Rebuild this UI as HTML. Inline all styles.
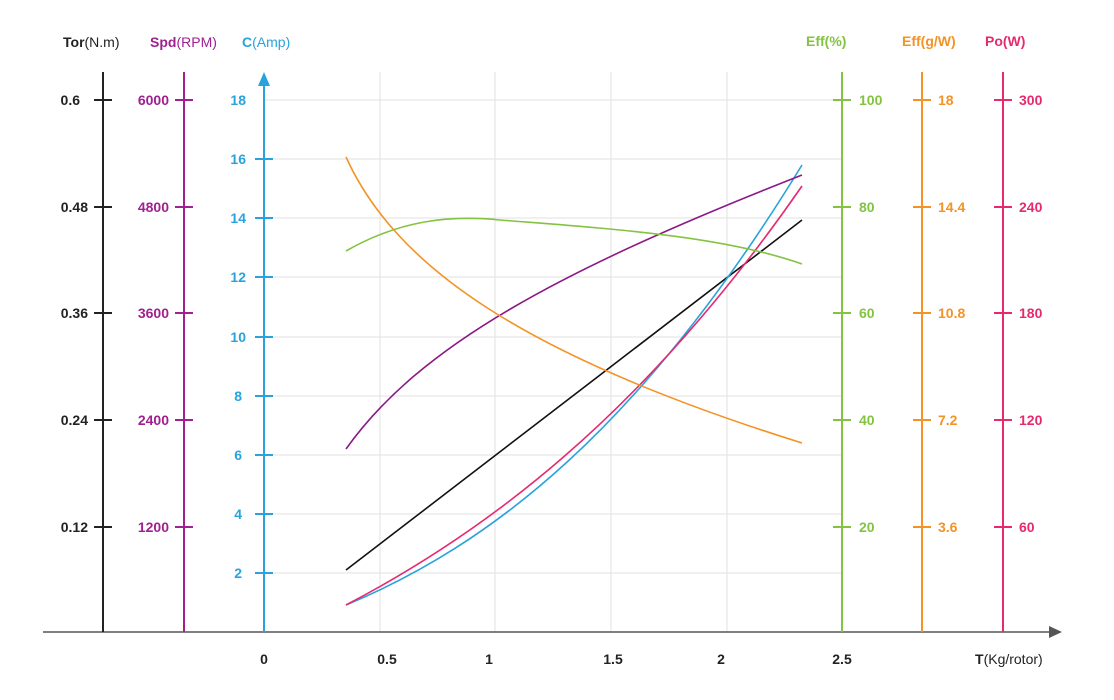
<!DOCTYPE html>
<html><head><meta charset="utf-8"><style>
body{margin:0;background:#fff;}
svg{display:block;font-family:"Liberation Sans",sans-serif;font-weight:bold;font-size:14px;}
.n{font-weight:normal}
</style></head><body>
<svg width="1114" height="700" viewBox="0 0 1114 700">
<g stroke="#e2e2e2" stroke-width="1">
<line x1="264" y1="100" x2="842" y2="100"/><line x1="264" y1="159" x2="842" y2="159"/>
<line x1="264" y1="218" x2="842" y2="218"/><line x1="264" y1="277" x2="842" y2="277"/>
<line x1="264" y1="337" x2="842" y2="337"/><line x1="264" y1="396" x2="842" y2="396"/>
<line x1="264" y1="455" x2="842" y2="455"/><line x1="264" y1="514" x2="842" y2="514"/>
<line x1="264" y1="573" x2="842" y2="573"/>
<line x1="380" y1="72" x2="380" y2="632"/><line x1="495" y1="72" x2="495" y2="632"/>
<line x1="611" y1="72" x2="611" y2="632"/><line x1="727" y1="72" x2="727" y2="632"/>
</g>
<line x1="43" y1="632" x2="1052" y2="632" stroke="#555" stroke-width="1.5"/>
<polygon points="1062,632 1049,626 1049,638" fill="#555"/>
<g fill="#222" text-anchor="middle"><text x="264" y="664">0</text><text x="387" y="664">0.5</text><text x="489" y="664">1</text><text x="613" y="664">1.5</text><text x="721" y="664">2</text><text x="842" y="664">2.5</text></g>
<text x="975" y="664" fill="#222">T<tspan class="n">(Kg/rotor)</tspan></text>
<g stroke="#222" stroke-width="2"><line x1="103" y1="72" x2="103" y2="632"/>
<path d="M94 100h18M94 207h18M94 313h18M94 420h18M94 527h18"/></g>
<g fill="#222" text-anchor="end"><text x="80" y="105">0.6</text><text x="88" y="212">0.48</text><text x="88" y="318">0.36</text><text x="88" y="425">0.24</text><text x="88" y="532">0.12</text></g>
<text x="63" y="47" fill="#222">Tor<tspan class="n">(N.m)</tspan></text>
<g stroke="#a0208f" stroke-width="2"><line x1="184" y1="72" x2="184" y2="632"/>
<path d="M175 100h18M175 207h18M175 313h18M175 420h18M175 527h18"/></g>
<g fill="#a0208f" text-anchor="end"><text x="169" y="105">6000</text><text x="169" y="212">4800</text><text x="169" y="318">3600</text><text x="169" y="425">2400</text><text x="169" y="532">1200</text></g>
<text x="150" y="47" fill="#a0208f">Spd<tspan class="n">(RPM)</tspan></text>
<g stroke="#2aa3dc" stroke-width="2"><line x1="264" y1="80" x2="264" y2="632"/>
<path d="M255 159h18M255 218h18M255 277h18M255 337h18M255 396h18M255 455h18M255 514h18M255 573h18"/></g>
<polygon points="264,72 258,86 270,86" fill="#2aa3dc"/>
<g fill="#2aa3dc" text-anchor="end"><text x="246" y="105">18</text><text x="246" y="164">16</text><text x="246" y="223">14</text><text x="246" y="282">12</text><text x="246" y="342">10</text><text x="242" y="401">8</text><text x="242" y="460">6</text><text x="242" y="519">4</text><text x="242" y="578">2</text></g>
<text x="242" y="47" fill="#2aa3dc">C<tspan class="n">(Amp)</tspan></text>
<g stroke="#84c341" stroke-width="2"><line x1="842" y1="72" x2="842" y2="632"/>
<path d="M833 100h18M833 207h18M833 313h18M833 420h18M833 527h18"/></g>
<g fill="#84c341"><text x="859" y="105">100</text><text x="859" y="212">80</text><text x="859" y="318">60</text><text x="859" y="425">40</text><text x="859" y="532">20</text></g>
<text x="806" y="46" fill="#84c341">Eff(%)</text>
<g stroke="#f39325" stroke-width="2"><line x1="922" y1="72" x2="922" y2="632"/>
<path d="M913 100h18M913 207h18M913 313h18M913 420h18M913 527h18"/></g>
<g fill="#f39325"><text x="938" y="105">18</text><text x="938" y="212">14.4</text><text x="938" y="318">10.8</text><text x="938" y="425">7.2</text><text x="938" y="532">3.6</text></g>
<text x="902" y="46" fill="#f39325">Eff(g/W)</text>
<g stroke="#e52a6f" stroke-width="2"><line x1="1003" y1="72" x2="1003" y2="632"/>
<path d="M994 100h18M994 207h18M994 313h18M994 420h18M994 527h18"/></g>
<g fill="#e52a6f"><text x="1019" y="105">300</text><text x="1019" y="212">240</text><text x="1019" y="318">180</text><text x="1019" y="425">120</text><text x="1019" y="532">60</text></g>
<text x="985" y="46" fill="#e52a6f">Po(W)</text>
<g fill="none" stroke-width="1.6">
<path d="M346 570 L802 220" stroke="#111"/>
<path d="M346 605 C490 545 640 430 802 165" stroke="#2aa3dc"/>
<path d="M346 605 C480 535 640 420 802 186" stroke="#e52a6f"/>
<path d="M346 449 C420 345 560 270 802 175" stroke="#8a1a86"/>
<path d="M346 157 C395 265 520 355 802 443" stroke="#f39325"/>
<path d="M346 251 C400 220 450 215 500 220 C600 228 720 235 802 264" stroke="#84c341"/>
</g>
</svg>
</body></html>
